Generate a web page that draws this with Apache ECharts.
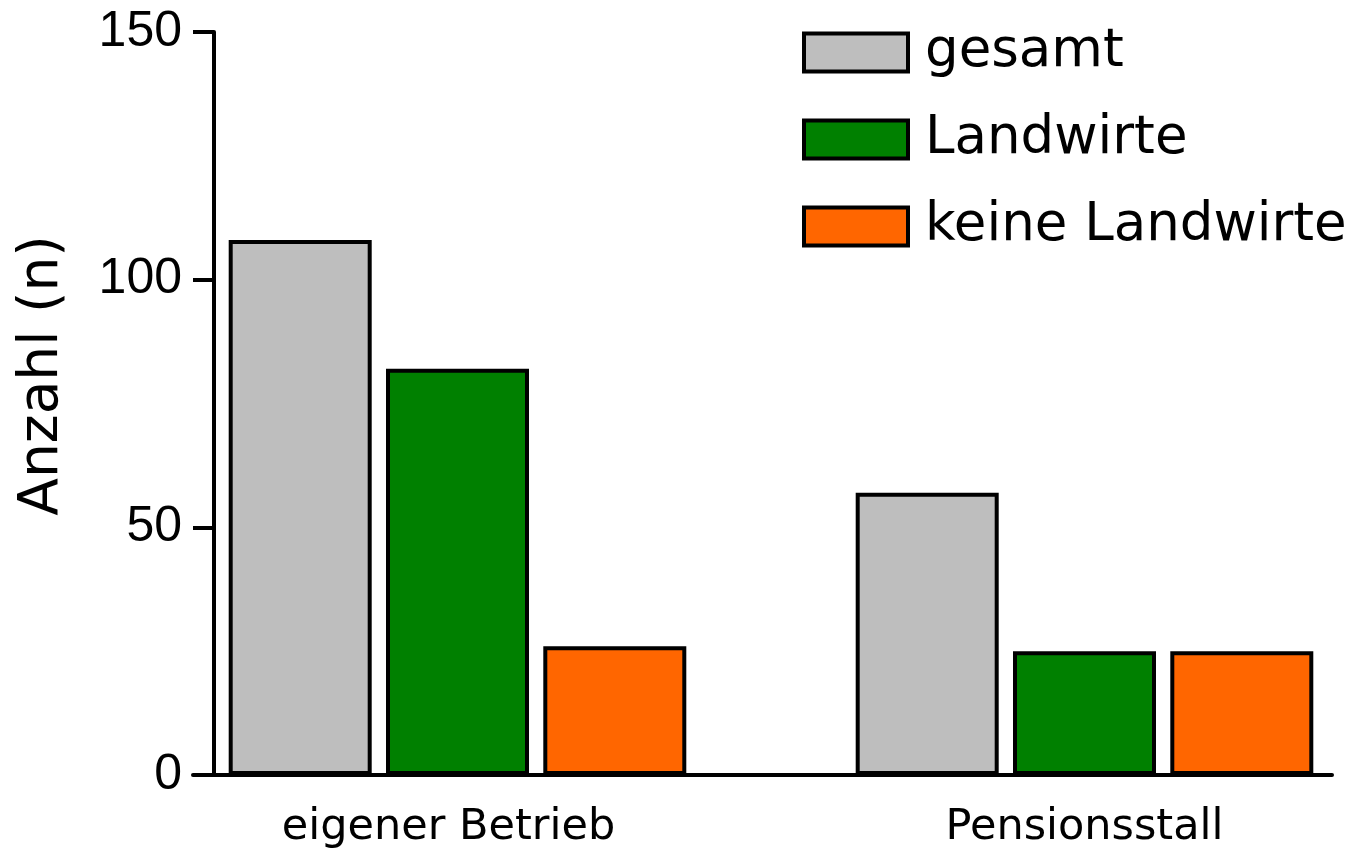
<!DOCTYPE html>
<html>
<head>
    <meta charset="utf-8">
    <title>Anzahl</title>
    <style type="text/css">
        html, body { margin: 0; padding: 0; background: #fff; }
        #main { width: 1357px; height: 855px; }
    </style>
    <script src="https://cdn.jsdelivr.net/npm/echarts@6/dist/echarts.min.js"></script>
</head>
<body>
    <div id="main"></div>
    <script type="text/javascript">
// data
var categories = ['eigener Betrieb', 'Pensionsstall'];
var seriesNames = ['gesamt', 'Landwirte', 'keine Landwirte'];
var gesamt = [108, 57];
var landwirte = [82, 25];
var keineLandwirte = [26, 25];
var yTicks = [0, 50, 100, 150];

var colors = ['#bebebe', '#008000', '#ff6600'];
var values = [gesamt, landwirte, keineLandwirte];
// erstes Label im Original etwas nach links versetzt
var labelPad = [[0, 18, 0, 0], [0, 0, 0, 0]];

var myChart = echarts.init(document.getElementById('main'));

var series = seriesNames.map(function (name, i) {
    return {
        name: name,
        type: 'bar',
        xAxisIndex: 1,
        yAxisIndex: 1,
        barWidth: 143,
        barGap: '10%',
        data: values[i],
        itemStyle: { color: colors[i], borderColor: '#000', borderWidth: 4 }
    };
});

var option = {
    animation: false,
    color: colors,
    legend: {
        orient: 'vertical',
        left: 802,
        top: 26,
        padding: 0,
        itemWidth: 104,
        itemHeight: 38,
        itemGap: 34,
        icon: 'rect',
        data: seriesNames,
        itemStyle: { borderColor: '#000', borderWidth: 4 },
        textStyle: {
            fontFamily: 'DejaVu Sans',
            fontSize: 53,
            color: '#000',
            padding: [0, 0, 0, 12]
        }
    },
    //两个grid: 0 画坐标轴, 1 画柱子
    grid: [
        { left: 193, right: 25, top: 32, bottom: 80, outerBoundsMode: 'none' },
        { left: 144, width: 1254, top: 32, bottom: 80, outerBoundsMode: 'none' }
    ],
    xAxis: [
        {
            gridIndex: 0,
            type: 'value',
            min: 0,
            max: 1,
            axisLine: { show: true, lineStyle: { color: '#000', width: 4 } },
            axisTick: { show: false },
            axisLabel: { show: false },
            splitLine: { show: false }
        },
        {
            gridIndex: 1,
            type: 'category',
            data: categories.map(function (c, i) {
                return { value: c, textStyle: { padding: labelPad[i] } };
            }),
            axisLine: { show: false },
            axisTick: { show: false },
            axisLabel: {
                margin: 31,
                fontFamily: 'DejaVu Sans',
                fontSize: 43,
                color: '#000'
            }
        }
    ],
    yAxis: [
        {
            gridIndex: 0,
            type: 'value',
            min: yTicks[0],
            max: yTicks[yTicks.length - 1],
            interval: 50,
            offset: -21,
            name: 'Anzahl (n)',
            nameLocation: 'middle',
            nameGap: 144,
            nameTextStyle: {
                fontFamily: 'DejaVu Sans',
                fontSize: 55,
                color: '#000',
                padding: [0, 0, 0, 56]
            },
            axisLine: { show: true, lineStyle: { color: '#000', width: 4 } },
            axisTick: { show: true, length: 21, lineStyle: { color: '#000', width: 4 } },
            axisLabel: {
                margin: 32,
                fontFamily: 'Liberation Sans',
                fontSize: 50,
                color: '#000'
            },
            splitLine: { show: false }
        },
        {
            gridIndex: 1,
            type: 'value',
            min: yTicks[0],
            max: yTicks[yTicks.length - 1],
            show: false
        }
    ],
    series: series
};

myChart.setOption(option);
    </script>
</body>
</html>
